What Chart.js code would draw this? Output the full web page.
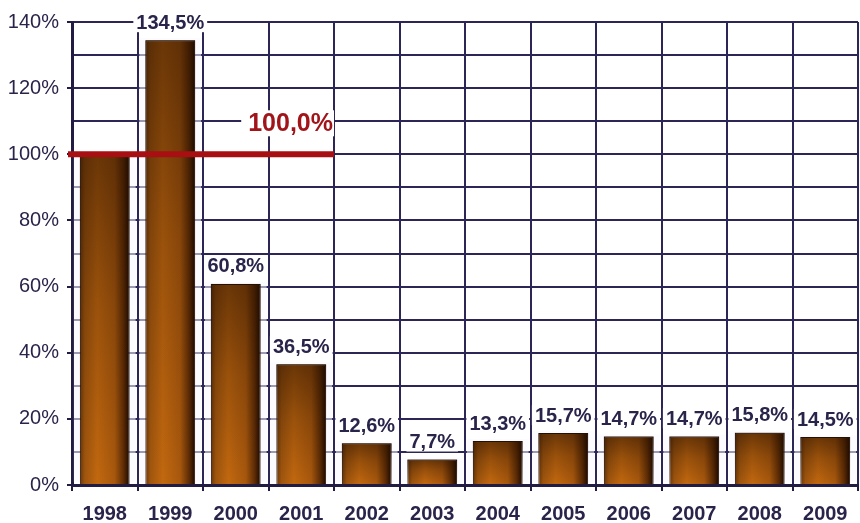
<!DOCTYPE html>
<html>
<head>
<meta charset="utf-8">
<script src="https://cdn.jsdelivr.net/npm/chart.js@4.4.0/dist/chart.umd.min.js"></script>
<style>
  html, body { margin: 0; padding: 0; background: #fff; }
  #wrap { width: 860px; height: 523px; }
</style>
</head>
<body>
<div id="wrap"><canvas id="chart_1" width="860" height="523"></canvas></div>
<script>
// data
const years = ['1998', '1999', '2000', '2001', '2002', '2003', '2004', '2005', '2006', '2007', '2008', '2009'];
const values = [100.0, 134.5, 60.8, 36.5, 12.6, 7.7, 13.3, 15.7, 14.7, 14.7, 15.8, 14.5];
const yMax = 140;
const yStep = 10;      // grid every 10, labels every 20
const refValue = 100.0;
const refLabel = '100,0%';
const refUntil = '2001';

const GRID = '#2c2656';
const AXIS = '#221b42';
const TEXT = '#29244a';
const FONT = '"Liberation Sans", Arial, sans-serif';

function fmt(v){
    return v.toFixed(1).replace('.', ',') + '%';
}

// horizontal gradient for every bar, dark right edge
function barFill(ctx){
    const chart = ctx.chart;
    const xs = chart.scales.x;
    if(!xs || ctx.dataIndex === undefined) return '#a5570e';
    const cx = xs.getPixelForValue(ctx.dataIndex);
    const w = (xs.width / years.length) * 0.76;
    if(!isFinite(cx) || !isFinite(w) || w <= 0) return '#a5570e';
    const g = chart.ctx.createLinearGradient(cx - w / 2, 0, cx + w / 2, 0);
    g.addColorStop(0, '#6a3708');
    g.addColorStop(0.1, '#a0560e');
    g.addColorStop(0.35, '#c2680f');
    g.addColorStop(0.7, '#a8580d');
    g.addColorStop(0.88, '#5e2c05');
    g.addColorStop(1, '#180700');
    return g;
}

// darker top of each bar
const shadePlugin = {
    id: 'shade',
    afterDatasetsDraw(chart){
        const c = chart.ctx;
        chart.getDatasetMeta(0).data.forEach(bar => {
            const {x, y, base, width} = bar.getProps(['x', 'y', 'base', 'width'], true);
            const g = c.createLinearGradient(0, y, 0, base);
            g.addColorStop(0, 'rgba(35,14,0,0.55)');
            g.addColorStop(0.45, 'rgba(35,14,0,0.25)');
            g.addColorStop(1, 'rgba(35,14,0,0)');
            c.save();
            c.fillStyle = g;
            c.fillRect(x - width / 2, y, width, base - y);
            c.restore();
        });
    }
};

// light halo round the bars (the gridlines fade near them)
const haloPlugin = {
    id: 'halo',
    beforeDatasetsDraw(chart){
        const c = chart.ctx;
        c.save();
        c.fillStyle = 'rgba(250,248,255,0.55)';
        chart.getDatasetMeta(0).data.forEach(bar => {
            const {x, y, base, width} = bar.getProps(['x', 'y', 'base', 'width'], true);
            c.fillRect(x - width / 2 - 6, y - 2, width + 12, base - y);
        });
        c.restore();
    }
};

// value labels above the bars + the 100% reference line
const labelPlugin = {
    id: 'labels',
    afterDraw(chart){
        const c = chart.ctx;
        const xs = chart.scales.x, ys = chart.scales.y;
        c.save();
        c.font = 'bold 20px ' + FONT;
        c.textAlign = 'center';
        c.textBaseline = 'middle';
        chart.getDatasetMeta(0).data.forEach((bar, i) => {
            if(i === 0) return; // 1998 is shown by the reference line label
            const txt = fmt(values[i]);
            const ty = bar.y - 18;
            const tw = c.measureText(txt).width;
            c.fillStyle = '#fff';
            c.fillRect(bar.x - tw / 2 - 3, ty - 10, tw + 6, 20);
            c.fillStyle = TEXT;
            c.fillText(txt, bar.x, ty + 1);
        });

        // reference line
        const idx = years.indexOf(refUntil);
        const xEnd = xs.getPixelForValue(idx) + xs.width / years.length / 2;
        const yRef = ys.getPixelForValue(refValue);
        c.strokeStyle = '#a80f12';
        c.lineWidth = 6;
        c.beginPath();
        c.moveTo(xs.left - 4, yRef);
        c.lineTo(xEnd, yRef);
        c.stroke();

        c.font = 'bold 25px ' + FONT;
        c.textAlign = 'right';
        const lw = c.measureText(refLabel).width;
        const ly = yRef - 31;
        c.fillStyle = '#fff';
        c.fillRect(xEnd - lw - 8, ly - 13, lw + 8, 26);
        c.fillStyle = '#a0141a';
        c.fillText(refLabel, xEnd - 1, ly + 1);
        c.restore();
    }
};

const chart = new Chart('chart_1', {
    type: 'bar',
    data: {
        labels: years,
        datasets: [{
            data: values,
            backgroundColor: barFill,
            borderColor: '#2a1203',
            borderWidth: 1,
            barPercentage: 0.76,
            categoryPercentage: 1
        }]
    },
    options: {
        responsive: false,
        animation: false,
        layout: { padding: { top: 22, right: 2, left: 0, bottom: 0 } },
        plugins: {
            legend: { display: false },
            tooltip: { enabled: false }
        },
        scales: {
            x: {
                offset: true,
                grid: {
                    offset: true,
                    color: GRID,
                    lineWidth: 2,
                    tickLength: 6,
                    tickColor: AXIS,
                    tickWidth: 2
                },
                border: { color: AXIS, width: 3 },
                ticks: {
                    color: TEXT,
                    padding: 11,
                    font: { family: FONT, size: 20, weight: 'bold' }
                },
                afterFit(s){ s.height = 38; }
            },
            y: {
                min: 0,
                max: yMax,
                grid: {
                    color: GRID,
                    lineWidth: 2,
                    tickLength: 5,
                    tickWidth: 2,
                    tickColor: ctx => (ctx.tick && ctx.tick.value % 20 === 0) ? AXIS : 'rgba(0,0,0,0)'
                },
                border: { color: AXIS, width: 3 },
                ticks: {
                    stepSize: yStep,
                    color: TEXT,
                    padding: 8,
                    font: { family: FONT, size: 20 },
                    callback: v => v % 20 === 0 ? v + '%' : ''
                },
                afterFit(s){ s.width = 72; }
            }
        }
    },
    plugins: [haloPlugin, shadePlugin, labelPlugin]
});
</script>
</body>
</html>
